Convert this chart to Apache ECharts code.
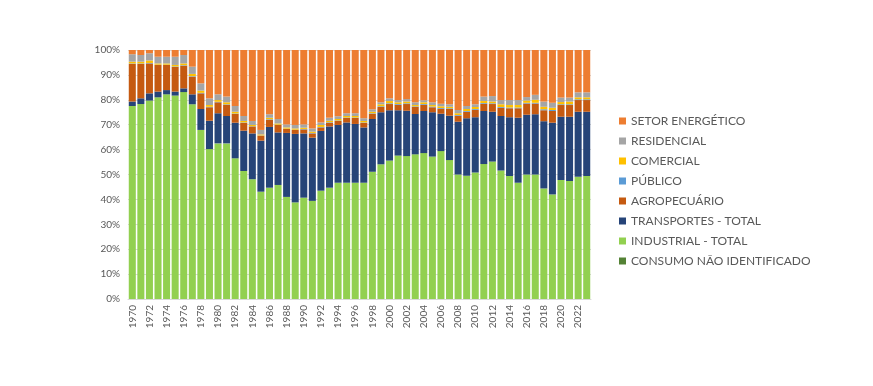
<!DOCTYPE html>
<html>
<head>
<meta charset="utf-8">
<script src="https://cdn.jsdelivr.net/npm/echarts@6/dist/echarts.min.js"></script>
<style>html,body{margin:0;padding:0;background:#fff;}#c{width:873px;height:386px;}</style>
</head>
<body>
<div id="c"></div>
<script>
const years = [1970,1971,1972,1973,1974,1975,1976,1977,1978,1979,1980,1981,1982,1983,1984,1985,1986,1987,1988,1989,1990,1991,1992,1993,1994,1995,1996,1997,1998,1999,2000,2001,2002,2003,2004,2005,2006,2007,2008,2009,2010,2011,2012,2013,2014,2015,2016,2017,2018,2019,2020,2021,2022,2023];

const consumoNaoIdentificado = [0,0,0,0,0,0,0,0,0,0,0,0,0,0,0,0,0,0,0,0,0,0,0,0,0,0,0,0,0,0,0,0,0,0,0,0,0,0,0,0,0,0,0,0,0,0,0,0,0,0,0,0,0,0];
const industrial = [77.5,78.3,79.7,81.0,82.2,81.7,83.1,78.2,67.9,60.2,62.5,62.5,56.5,51.4,48.1,43.1,44.7,45.8,41.0,38.8,40.7,39.4,43.5,44.7,46.7,46.7,46.7,46.7,51.1,54.1,55.6,57.6,57.4,58.1,58.6,57.2,59.4,55.8,50.0,49.5,50.8,54.2,55.2,51.6,49.4,46.7,50.0,50.0,44.4,42.0,47.8,47.4,49.1,49.4];
const transportes = [1.8,2.3,2.9,2.3,1.7,1.6,1.5,4.0,8.4,11.4,12.1,11.0,14.3,16.2,18.4,20.5,24.4,21.1,25.7,27.5,25.8,25.4,24.0,24.6,23.2,24.2,23.6,22.2,21.2,20.9,20.2,18.2,18.2,16.2,16.9,17.8,15.0,17.8,21.2,23.1,22.2,21.3,20.0,21.9,23.6,26.1,24.0,24.2,27.0,28.8,25.4,25.8,26.1,25.8];
const agropecuario = [15.1,13.8,12.0,10.7,10.1,9.9,9.1,7.1,6.3,5.4,4.4,4.5,3.5,3.1,2.8,2.0,2.9,3.0,1.6,1.6,1.6,1.7,1.4,1.5,1.6,1.8,2.4,1.8,2.1,2.1,2.5,2.2,2.7,2.9,2.5,2.0,2.0,2.7,2.4,2.6,3.0,2.9,3.1,3.3,3.6,3.8,4.5,4.3,4.4,4.7,4.7,4.7,4.7,4.7];
const publico = [0.2,0.2,0.2,0.1,0.1,0.2,0.2,0.2,0.2,0.2,0.2,0.2,0.2,0.2,0.1,0.1,0.2,0.1,0.1,0.1,0.2,0.2,0.2,0.2,0.2,0.2,0.2,0.2,0.2,0.3,0.3,0.3,0.3,0.2,0.3,0.3,0.3,0.3,0.3,0.3,0.3,0.3,0.3,0.3,0.3,0.3,0.3,0.3,0.4,0.4,0.3,0.3,0.3,0.3];
const comercial = [0.7,0.7,1.0,0.5,0.5,0.6,0.7,0.9,0.9,0.7,0.7,0.8,0.7,0.6,0.5,0.4,0.6,0.5,0.5,0.5,0.5,0.5,0.8,0.6,0.6,0.6,0.6,0.6,0.6,0.8,0.9,0.7,0.7,0.5,0.7,0.6,0.7,0.6,0.7,0.8,0.8,0.8,0.7,1.1,1.0,1.0,0.9,1.2,1.0,0.9,0.9,1.1,0.8,0.8];
const residencial = [3.0,2.7,2.9,2.7,2.7,3.3,3.4,2.9,2.9,2.7,2.3,2.3,2.3,2.0,1.6,1.8,1.4,1.8,1.2,1.4,1.3,1.3,1.0,1.2,1.1,1.1,1.1,1.1,1.0,0.8,1.1,0.9,1.0,1.1,0.8,1.1,1.0,1.0,1.3,1.2,1.1,1.8,2.2,1.7,2.0,2.0,1.4,2.0,2.1,2.0,1.8,1.6,2.0,2.0];
const setorEnergetico = [1.7,2.0,1.3,2.7,2.7,2.7,2.0,6.7,13.4,19.4,17.8,18.7,22.5,26.5,28.5,32.1,25.8,27.7,29.9,30.1,29.9,31.5,29.1,27.2,26.6,25.4,25.4,27.4,23.8,21.0,19.4,20.1,19.7,21.0,20.2,21.0,21.6,21.8,24.1,22.5,21.8,18.7,18.5,20.1,20.1,20.1,18.9,18.0,20.7,21.2,19.1,19.1,17.0,17.0];

const yTicks = [0,10,20,30,40,50,60,70,80,90,100];

const seriesDefs = [
  {name:'CONSUMO NÃO IDENTIFICADO', data:consumoNaoIdentificado, color:'#548235'},
  {name:'INDUSTRIAL - TOTAL', data:industrial, color:'#92D050'},
  {name:'TRANSPORTES - TOTAL', data:transportes, color:'#264478'},
  {name:'AGROPECUÁRIO', data:agropecuario, color:'#C55A11'},
  {name:'PÚBLICO', data:publico, color:'#5B9BD5'},
  {name:'COMERCIAL', data:comercial, color:'#FFC000'},
  {name:'RESIDENCIAL', data:residencial, color:'#A5A5A5'},
  {name:'SETOR ENERGÉTICO', data:setorEnergetico, color:'#ED7D31'}
];

const font = 'Lato, "Open Sans", sans-serif';
const chart = echarts.init(document.getElementById('c'), null, {renderer:'canvas'});
chart.setOption({
  backgroundColor:'#ffffff',
  animation:false,
  grid:{left:128, right:282, top:50, bottom:87, containLabel:false},
  legend:{
    orient:'vertical', left:614, top:110,
    data: seriesDefs.map(s=>s.name).reverse(),
    itemWidth:7, itemHeight:7, itemGap:8,
    icon:'rect',
    textStyle:{fontFamily:font, fontSize:12, color:'#595959'}
  },
  xAxis:{
    type:'category', data:years,
    axisTick:{show:false},
    axisLine:{show:true, lineStyle:{color:'#D9D9D9'}},
    axisLabel:{rotate:90, interval:1, fontFamily:font, fontSize:10, color:'#595959', margin:6}
  },
  yAxis:{
    type:'value', min:yTicks[0], max:yTicks[yTicks.length-1], interval:10,
    axisLine:{show:false}, axisTick:{show:false},
    splitLine:{lineStyle:{color:'#D9D9D9'}},
    axisLabel:{formatter:'{value}%', fontFamily:font, fontSize:10, color:'#595959', margin:8}
  },
  series: seriesDefs.map(s=>({
    name:s.name, type:'bar', stack:'total', data:s.data,
    barCategoryGap:'18%',
    itemStyle:{color:s.color},
    emphasis:{disabled:true}
  }))
});
</script>
</body>
</html>
